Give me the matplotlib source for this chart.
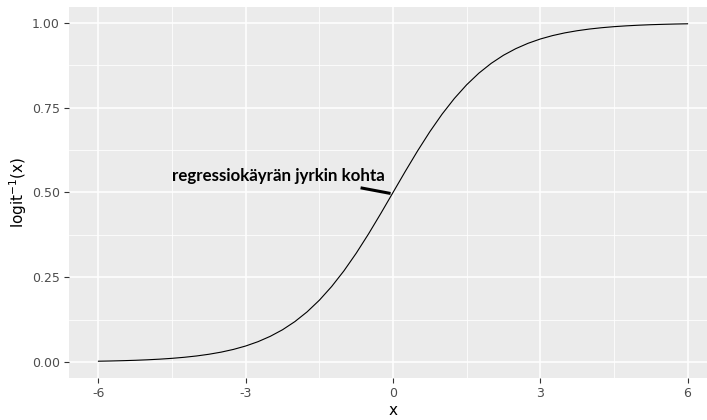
import matplotlib
matplotlib.use("Agg")
import matplotlib.pyplot as plt
from matplotlib.ticker import MultipleLocator

# values, x = -6 ... 6 in steps of 0.25
x_vals = [-6.0, -5.75, -5.5, -5.25, -5.0, -4.75, -4.5, -4.25, -4.0, -3.75, -3.5, -3.25,
          -3.0, -2.75, -2.5, -2.25, -2.0, -1.75, -1.5, -1.25, -1.0, -0.75, -0.5, -0.25,
          0.0, 0.25, 0.5, 0.75, 1.0, 1.25, 1.5, 1.75, 2.0, 2.25, 2.5, 2.75,
          3.0, 3.25, 3.5, 3.75, 4.0, 4.25, 4.5, 4.75, 5.0, 5.25, 5.5, 5.75, 6.0]
y_vals = [0.0025, 0.0032, 0.0041, 0.0052, 0.0067, 0.0086, 0.0110, 0.0141, 0.0180, 0.0230, 0.0293, 0.0373,
          0.0474, 0.0601, 0.0759, 0.0953, 0.1192, 0.1480, 0.1824, 0.2227, 0.2689, 0.3208, 0.3775, 0.4378,
          0.5000, 0.5622, 0.6225, 0.6792, 0.7311, 0.7773, 0.8176, 0.8520, 0.8808, 0.9047, 0.9241, 0.9399,
          0.9526, 0.9627, 0.9707, 0.9770, 0.9820, 0.9859, 0.9890, 0.9914, 0.9933, 0.9948, 0.9959, 0.9968, 0.9975]

x_ticks = [-6, -3, 0, 3, 6]
y_ticks = [0.0, 0.25, 0.5, 0.75, 1.0]
y_ticklabels = ["0.00", "0.25", "0.50", "0.75", "1.00"]
note = "regressiokäyrän jyrkin kohta"

W, H = 707, 420
fig = plt.figure(figsize=(W / 100, H / 100), dpi=100)
# panel runs past the right edge of the image, as in the reference
ax = fig.add_axes([69 / W, 1 - 378 / H, 648 / W, 371 / H])
ax.set_facecolor("#EBEBEB")

ax.plot(x_vals, y_vals, color="black", lw=0.8, zorder=3)

ax.set_xlim(-6.6, 6.6)
ax.set_ylim(-0.047, 1.047)
ax.set_xticks(x_ticks)
ax.set_xticklabels([str(t) for t in x_ticks])
ax.set_yticks(y_ticks)
ax.set_yticklabels(y_ticklabels)
ax.xaxis.set_minor_locator(MultipleLocator(1.5))
ax.yaxis.set_minor_locator(MultipleLocator(0.125))

ax.grid(which="major", color="white", lw=1.1, zorder=1)
ax.grid(which="minor", color="white", lw=0.55, zorder=1)
ax.set_axisbelow(True)
for s in ax.spines.values():
    s.set_visible(False)

ax.tick_params(which="major", length=3.5, width=0.8, color="#333333",
               labelcolor="#4D4D4D", labelsize=9, pad=3)
ax.tick_params(which="minor", length=0)

ax.set_xlabel("x", fontsize=11, color="black", labelpad=2)
ax.set_ylabel(r"logit$^{-1}$(x)", fontsize=11, color="black", labelpad=2)

ax.text(-4.5, 0.55, note, fontsize=12.2, fontweight="bold", family="Lato",
        ha="left", va="center", color="black", zorder=4)
ax.plot([-0.63, -0.08], [0.513, 0.498], color="black", lw=2.2, zorder=4)

fig.savefig("out.png", dpi=100)
